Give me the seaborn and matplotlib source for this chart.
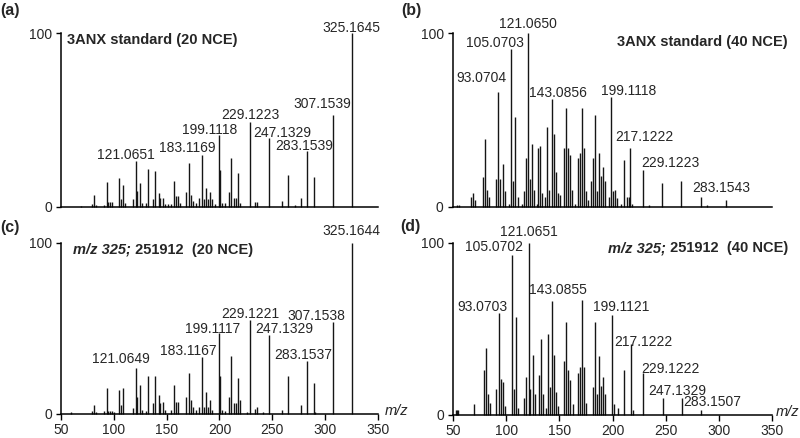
import matplotlib
matplotlib.use("Agg")
import matplotlib.pyplot as plt
import seaborn as sns

# (a) 3ANX standard, 20 NCE
a_mz = [68.9, 79.0, 80.9, 82.8, 91.0, 93.07, 94.8, 96.7, 98.6, 105.07, 106.8, 108.7, 110.5,
        118.4, 121.0651, 122.2, 124.7, 126.9, 130.7, 132.6, 136.7, 138.9, 142.4, 144.0, 146.5,
        148.4, 151.5, 154.4, 156.6, 159.1, 161.0, 162.9, 167.9, 171.1, 173.0, 175.2, 178.0,
        180.9, 183.1169, 185.3, 186.9, 188.8, 190.6, 193.2, 195.7, 199.1118, 200.4, 202.6,
        205.2, 208.6, 210.5, 214.0, 215.6, 217.5, 219.3, 229.1223, 233.5, 235.1, 247.1329,
        258.8, 265.1, 271.1, 277.1, 283.1539, 289.0, 307.1539, 325.1645]
a_int = [0.5, 2, 6.7, 1, 1, 14.2, 3, 3, 3, 16.7, 4.6, 12.8, 2.3,
         4.6, 26.6, 9.4, 13.8, 2.5, 2.5, 21.8, 4.6, 20.5, 8, 5.2, 5.2,
         2, 2, 2, 15.1, 6.1, 6.1, 2.5, 8.6, 25.3, 6.7, 3.3, 2.5,
         5.2, 29.7, 4.8, 10.9, 4.8, 8.6, 4.8, 2, 41.6, 21.1, 2.5,
         2.5, 8.4, 28.4, 5, 5, 19.7, 2.5, 48.9, 2.7, 3, 39.7,
         3.6, 18.4, 1, 5, 32, 17.2, 53.1, 100]
a_labels = ["121.0651", "183.1169", "199.1118", "229.1223", "247.1329",
            "283.1539", "307.1539", "325.1645"]

# (b) 3ANX standard, 40 NCE
b_mz = [54.0, 56.0, 67.2, 68.8, 71.0, 78.8, 80.7, 82.6, 84.5, 90.8, 93.0704, 94.8, 97.0,
        98.9, 103.0, 105.0703, 107.0, 108.9, 111.0, 114.9, 116.8, 118.7, 121.0650, 122.4,
        124.9, 126.8, 129.0, 130.6, 132.4, 134.3, 136.8, 139.0, 140.9, 143.0856, 145.0,
        146.9, 148.7, 150.6, 154.4, 156.6, 158.5, 160.3, 162.5, 165.0, 168.2, 169.4, 171.3,
        173.2, 175.1, 177.6, 179.8, 181.7, 183.5, 185.4, 187.3, 189.2, 191.1, 193.0, 197.3,
        199.1118, 201.1, 203.0, 204.9, 208.3, 211.0, 214.3, 215.5, 217.1222, 219.0,
        229.1223, 235.0, 246.6, 265.0, 283.1543, 289.0, 307.0]
b_int = [1, 1, 6, 8, 4, 17, 39, 10, 6, 16, 66, 16, 25,
         9, 2, 91, 15, 52, 6, 2, 9, 28, 100, 16,
         36, 10, 2, 34, 35, 8, 6, 46, 10, 62, 42,
         20, 8, 7, 34, 57, 34, 30, 10, 2, 28, 31, 57,
         34, 9, 4, 15, 28, 53, 9, 31, 18, 23, 15, 6,
         63, 9, 10, 5, 2, 27, 6, 6, 34, 2,
         21, 1, 14, 15, 6, 1, 4]
b_labels = ["93.0704", "105.0703", "121.0650", "143.0856", "199.1118",
            "217.1222", "229.1223", "283.1543"]

# (c) m/z 325; 251912, 20 NCE
c_mz = [59.5, 79.0, 80.9, 82.8, 91.0, 93.07, 94.8, 96.7, 98.6, 100.5, 105.07, 106.8, 108.7,
        118.4, 121.0649, 122.2, 124.7, 126.9, 130.7, 132.6, 136.7, 138.9, 142.4, 144.0,
        146.5, 148.4, 154.4, 156.6, 159.1, 161.0, 167.9, 171.1, 173.0, 175.2, 178.0, 180.9,
        183.1167, 185.3, 186.9, 188.8, 190.6, 193.2, 199.1117, 200.7, 202.6, 205.2, 208.6,
        210.5, 214.0, 215.6, 217.5, 219.3, 225.6, 229.1221, 233.5, 235.1, 241.5, 247.1329,
        258.8, 265.1, 277.1, 283.1537, 289.0, 290.3, 307.1538, 325.1644]
c_int = [1, 1.5, 5, 1, 1.5, 15, 1.5, 1.5, 1.5, 1, 14, 5, 15,
         3.5, 27, 10, 17, 2, 1.5, 22, 6, 22, 11, 6,
         7, 2, 2, 17, 7, 7, 10, 24, 8, 4, 2, 4,
         33, 4, 13, 4, 8, 2, 47, 22, 2, 1.5, 10,
         34, 6, 6, 21, 8, 1, 55, 3, 4, 1, 46,
         2, 22, 5, 31, 18, 1, 54, 100]
c_labels = ["121.0649", "183.1167", "199.1117", "229.1221", "247.1329",
            "283.1537", "307.1538", "325.1644"]

# (d) m/z 325; 251912, 40 NCE
d_mz = [52.5, 53.5, 55.0, 69.4, 78.8, 80.7, 82.6, 84.5, 90.8, 93.0703, 94.8, 97.0, 98.9,
        105.0702, 107.0, 108.9, 110.8, 116.8, 118.7, 121.0651, 122.6, 125.2, 126.8, 130.6,
        132.4, 134.3, 137.0, 139.0, 140.9, 143.0855, 145.0, 146.9, 148.7, 154.4, 156.6,
        158.5, 160.3, 162.5, 168.0, 169.4, 171.3, 173.2, 175.1, 181.3, 183.5, 185.4, 187.3,
        189.2, 191.1, 193.0, 199.1121, 201.1, 205.0, 211.0, 217.1222, 219.0, 229.1222,
        247.1329, 265.0, 283.1507]
d_int = [3, 3, 3, 6, 26, 39, 12, 7, 15, 59, 21, 19, 5,
         93, 15, 57, 4, 10, 22, 100, 15, 35, 12, 23,
         44, 12, 4, 47, 16, 66, 35, 13, 5, 31, 54,
         26, 20, 6, 24, 28, 67, 28, 7, 16, 54, 12, 34,
         17, 22, 12, 58, 6, 4, 26, 41, 3, 24,
         10, 10, 3]
d_labels = ["93.0703", "105.0702", "121.0651", "143.0855", "199.1121",
            "217.1222", "229.1222", "247.1329", "283.1507"]

x_ticks = [50, 100, 150, 200, 250, 300, 350]

# label nudges in pixels (dx, dy above the peak top)
a_offsets = [(-10, 1.5), (-14, 3), (-9, 1), (0, 2.7), (13, 1.3), (-3, 1), (-10, 6.7), (0, 1)]
b_offsets = [(-17, 10.5), (-16, 2), (0, 4.7), (6, 2.3), (17, 2.5), (13.6, 6.8), (27, 3.8), (21, 4.9)]
c_offsets = [(-15, 4.6), (-13, 2), (-6, 0.5), (0, 2.3), (15, 2.2), (-4, 2), (-16, 1.8), (0, 8)]
d_offsets = [(-16, 2), (-17.7, 3.7), (0, 6.7), (6, 7.4), (10, 4.5), (13, -1.4), (26.5, 0.5),
             (15, 2.8), (11.6, 3.2)]

W, H = 800, 438
sns.set_theme(style="ticks")
plt.rcParams['font.family'] = ['Liberation Sans', 'DejaVu Sans']

fig = plt.figure(figsize=(8, 4.38), dpi=100)


def px_box(left, top, right, bottom):
    return [left / W, 1 - bottom / H, (right - left) / W, (bottom - top) / H]


def draw_panel(ax, mz, inten, labels, offsets, show_x):
    ax.vlines(mz, 0, inten, colors='#151515', linewidth=1.0, clip_on=False)
    ax.set_xlim(50, 350)
    ax.set_ylim(0, 100)
    ax.set_yticks([0, 100])
    ax.set_yticklabels(["0", "100"])
    ax.tick_params(axis='y', length=3.5, width=1.0, pad=3, labelsize=10, color='black')
    if show_x:
        ax.set_xticks(x_ticks)
        ax.tick_params(axis='x', length=4, width=1.0, pad=3, labelsize=10, color='black')
    else:
        ax.set_xticks([])
    sns.despine(ax=ax)
    for side in ('left', 'bottom'):
        ax.spines[side].set_linewidth(1.1)
        ax.spines[side].set_color('black')
    ax.set_facecolor('none')
    for lab, (dx, dy) in zip(labels, offsets):
        peak = mz.index(float(lab))
        ax.annotate(lab, xy=(mz[peak], inten[peak]), xytext=(dx * 0.72, dy * 0.72),
                    textcoords='offset points', ha='center', va='baseline',
                    fontsize=10, annotation_clip=False)


ax_a = fig.add_axes(px_box(61, 33, 378, 207))
ax_b = fig.add_axes(px_box(452.7, 33, 771.7, 207))
ax_c = fig.add_axes(px_box(61, 243, 378, 413.7))
ax_d = fig.add_axes(px_box(453, 243, 772, 414.7))

draw_panel(ax_a, a_mz, a_int, a_labels, a_offsets, False)
draw_panel(ax_b, b_mz, b_int, b_labels, b_offsets, False)
draw_panel(ax_c, c_mz, c_int, c_labels, c_offsets, True)
draw_panel(ax_d, d_mz, d_int, d_labels, d_offsets, True)

# panel letters
for letter, x, y in [("(a)", 0, 3), ("(b)", 401, 3), ("(c)", 0, 220), ("(d)", 400, 219)]:
    fig.text(x / W, 1 - y / H, letter, fontsize=11.5, fontweight='bold', va='top', ha='left')

# titles
title_size = 10.5
fig.text(66.7 / W, 1 - 33 / H, "3ANX standard (20 NCE)", fontsize=title_size,
         fontweight='bold', va='top', ha='left')
fig.text(788 / W, 1 - 35 / H, "3ANX standard (40 NCE)", fontsize=title_size,
         fontweight='bold', va='top', ha='right')

t_c = fig.text(72.7 / W, 1 - 243 / H, "m/z 325;", fontsize=title_size, fontweight='bold',
               style='italic', va='top', ha='left')
ax_c.annotate(" 251912  (20 NCE)", xy=(1, 0), xycoords=t_c, ha='left', va='bottom',
              fontsize=title_size, fontweight='bold', annotation_clip=False)

t_d = fig.text(788 / W, 1 - 241 / H, " 251912  (40 NCE)", fontsize=title_size,
               fontweight='bold', va='top', ha='right')
ax_d.annotate("m/z 325;", xy=(0, 0), xycoords=t_d, ha='right', va='bottom',
              fontsize=title_size, fontweight='bold', style='italic', annotation_clip=False)

# m/z axis labels
fig.text(385 / W, 1 - 411 / H, "m/z", fontsize=10.5, style='italic', va='center', ha='left')
fig.text(776 / W, 1 - 412 / H, "m/z", fontsize=10.5, style='italic', va='center', ha='left')

fig.savefig("out.png", dpi=100)
plt.close("all")
